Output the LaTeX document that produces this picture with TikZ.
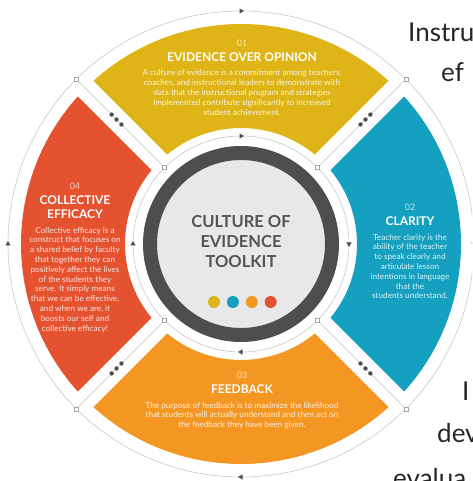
\documentclass[tikz,border=0pt]{standalone}
\usepackage{fontspec}
\setmainfont{Lato}
\definecolor{coeyellow}{RGB}{222,180,22}
\definecolor{coeblue}{RGB}{22,160,192}
\definecolor{coeorange}{RGB}{244,150,34}
\definecolor{coered}{RGB}{229,82,48}
\definecolor{coering}{RGB}{78,78,80}
\definecolor{coehub}{RGB}{232,232,234}
\definecolor{coeline}{RGB}{200,200,200}
\definecolor{coetext}{RGB}{85,85,88}
\usetikzlibrary{positioning,shapes.geometric}

\begin{document}
\begin{tikzpicture}[
      x=1pt, y=1pt,
      sep/.style={draw=coeline, line width=0.6pt},
      sq/.style={draw=gray!70, fill=white, rectangle, line width=0.4pt, inner sep=0pt, minimum size=4pt},
      tri/.style={regular polygon, regular polygon sides=3, fill=coering, inner sep=0pt, minimum size=6pt},
      num/.style={text=white, text opacity=0.7, font=\fontsize{9}{9}\selectfont, inner sep=0pt},
      ttl/.style={text=white, font=\bfseries\fontsize{12}{14}\selectfont, inner sep=0pt, align=center, below=6 of #1},
      body/.style={text=white, text opacity=0.85, font=\fontsize{8.2}{9.8}\selectfont, inner sep=0pt, align=center, below=8 of #1},
      dot/.style={circle, inner sep=0pt, minimum size=12pt},
      frag/.style={anchor=base west, inner sep=0pt, text=black!85, font=\fontsize{26}{26}\selectfont}
    ]

    % Frame
    \useasboundingbox (-241,-237) rectangle (231,244);
    \clip (-241,-237) rectangle (231,244);
    \fill[white] (-241,-237) rectangle (231,244);

    % Four segments
    \foreach \a/\c in {90/coeyellow, 0/coeblue, 270/coeorange, 180/coered} {
      \fill[\c] ({\a+45-asin(11/220)}:220)
        arc[start angle={\a+45-asin(11/220)}, end angle={\a-45+asin(11/220)}, radius=220]
        -- ({\a-45+asin(11/116)}:116)
        arc[start angle={\a-45+asin(11/116)}, end angle={\a+45-asin(11/116)}, radius=116] -- cycle;
    }

    % Guide circles and separators
    \draw[sep] (0,0) circle[radius=233];
    \draw[sep] (0,0) circle[radius=108];
    \foreach \a in {45,135,225,315} {
      \draw[sep] (\a:108) -- (\a:233);
      \node (in\a)  [sq] at (\a:108) {};
      \node (out\a) [sq] at (\a:233) {};
      \foreach \r in {169,176,183}
        \fill[coering] (\a:\r) circle[radius=2.2];
    }

    % Direction marks (clockwise)
    \foreach \a in {0,90,180,270} {
      \node (mo\a) [tri, rotate=\a-180] at (\a:233) {};
      \node (mi\a) [tri, rotate=\a-180] at (\a:108) {};
    }

    % Hub
    \node (hub) [circle, draw=coering, line width=14pt, fill=coehub, minimum size=182pt] at (0,0) {};
    \node (hubtext) [text=coetext, align=center, font=\bfseries\fontsize{16.5}{20}\selectfont] at (0,2)
                                                      {CULTURE OF\\EVIDENCE\\TOOLKIT};
    \node (d1) [dot, fill=coeyellow] at (-27,-58) {};
    \node (d2) [dot, fill=coeblue, right=6.5 of d1]   {};
    \node (d3) [dot, fill=coeorange, right=6.5 of d2] {};
    \node (d4) [dot, fill=coered, right=6.5 of d3]    {};

    % 01 (top)
    \node (n1) [num] at (1,201) {01};
    \node (t1) [ttl=n1] {EVIDENCE OVER OPINION};
    \node (b1) [body=t1] {A culture of evidence is a commitment among teachers,\\
                          coaches, and instructional leaders to demonstrate with\\
                          data that the instructional program and strategies\\
                          implemented contribute significantly to increased\\
                          student achievement.};

    % 02 (right)
    \node (n2) [num] at (169,37) {02};
    \node (t2) [ttl=n2] {CLARITY};
    \node (b2) [body=t2] {Teacher clarity is the\\ ability of the teacher\\ to speak clearly and\\
                          articulate lesson\\ intentions in language\\ that the\\ students understand.};

    % 03 (bottom)
    \node (n3) [num] at (1,-131) {03};
    \node (t3) [ttl=n3] {FEEDBACK};
    \node (b3) [body=t3] {The purpose of feedback is to maximize the likelihood\\
                          that students will actually understand and then act on\\
                          the feedback they have been given.};

    % 04 (left)
    \node (n4) [num] at (-166,58) {04};
    \node (t4) [ttl=n4] {COLLECTIVE\\EFFICACY};
    \node (b4) [body=t4] {Collective efficacy is a\\ construct that focuses on\\ a shared belief by faculty\\
                          that together they can\\ positively affect the lives\\ of the students they\\
                          serve. It simply means\\ that we can be effective,\\ and when we are, it\\
                          boosts our self and\\ collective efficacy!};

    % Page text cut at the right edge
    \node (p1) [frag] at (167,202)  {Instru};
    \node (p2) [frag] at (200,162)  {ef};
    \node (p3) [frag] at (221,-156) {I};
    \node (p4) [frag] at (196,-198) {dev};
    \node (p5) [frag] at (152,-243) {evalua};
  \end{tikzpicture}
\end{document}
